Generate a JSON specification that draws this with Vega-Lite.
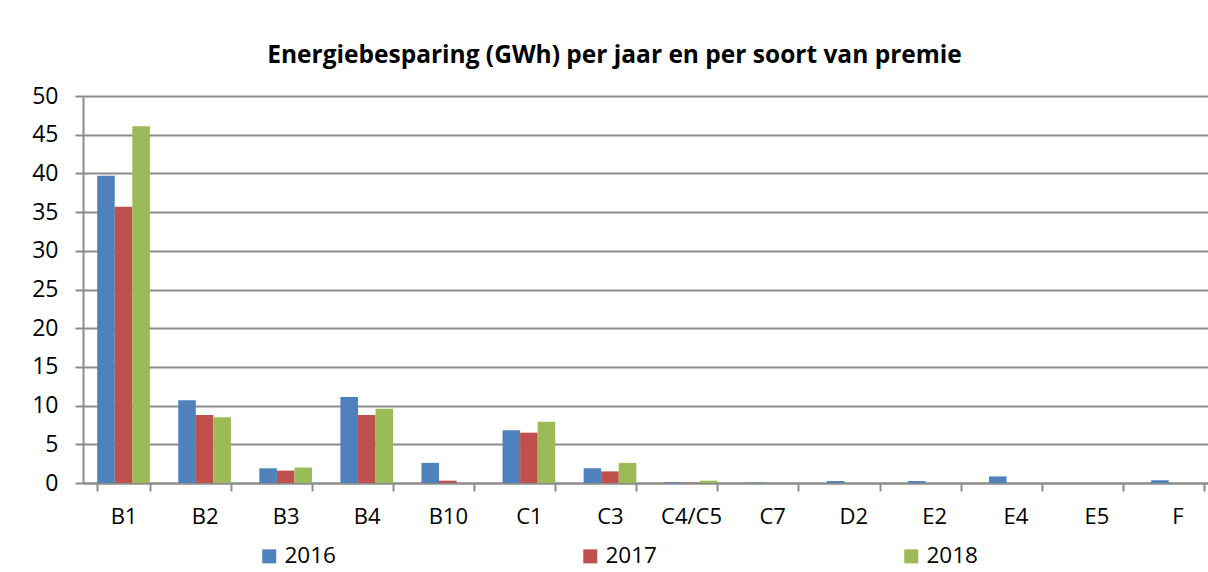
{
  "$schema": "https://vega.github.io/schema/vega-lite/v6.json",
  "autosize": {"type": "none"},
  "padding": {"left": 83, "top": 96, "right": 0, "bottom": 89},
  "width": 1125,
  "height": 387,
  "background": "white",
  "title": {
    "text": "Energiebesparing (GWh) per jaar en per soort van premie",
    "font": "Open Sans",
    "fontSize": 24.5,
    "fontWeight": "bold",
    "color": "#000000",
    "anchor": "middle",
    "frame": "group",
    "dx": -31,
    "offset": 17
  },
  "data": {
    "values": [
      {"cat": "B1", "year": "2016", "value": 39.7},
      {"cat": "B1", "year": "2017", "value": 35.7},
      {"cat": "B1", "year": "2018", "value": 46.1},
      {"cat": "B2", "year": "2016", "value": 10.7},
      {"cat": "B2", "year": "2017", "value": 8.8},
      {"cat": "B2", "year": "2018", "value": 8.5},
      {"cat": "B3", "year": "2016", "value": 1.9},
      {"cat": "B3", "year": "2017", "value": 1.6},
      {"cat": "B3", "year": "2018", "value": 2.0},
      {"cat": "B4", "year": "2016", "value": 11.1},
      {"cat": "B4", "year": "2017", "value": 8.8},
      {"cat": "B4", "year": "2018", "value": 9.6},
      {"cat": "B10", "year": "2016", "value": 2.6},
      {"cat": "B10", "year": "2017", "value": 0.3},
      {"cat": "B10", "year": "2018", "value": 0},
      {"cat": "C1", "year": "2016", "value": 6.8},
      {"cat": "C1", "year": "2017", "value": 6.5},
      {"cat": "C1", "year": "2018", "value": 7.9},
      {"cat": "C3", "year": "2016", "value": 1.9},
      {"cat": "C3", "year": "2017", "value": 1.5},
      {"cat": "C3", "year": "2018", "value": 2.6},
      {"cat": "C4/C5", "year": "2016", "value": 0.1},
      {"cat": "C4/C5", "year": "2017", "value": 0.05},
      {"cat": "C4/C5", "year": "2018", "value": 0.3},
      {"cat": "C7", "year": "2016", "value": 0.05},
      {"cat": "C7", "year": "2017", "value": 0},
      {"cat": "C7", "year": "2018", "value": 0},
      {"cat": "D2", "year": "2016", "value": 0.25},
      {"cat": "D2", "year": "2017", "value": 0},
      {"cat": "D2", "year": "2018", "value": 0},
      {"cat": "E2", "year": "2016", "value": 0.25},
      {"cat": "E2", "year": "2017", "value": 0},
      {"cat": "E2", "year": "2018", "value": 0},
      {"cat": "E4", "year": "2016", "value": 0.85},
      {"cat": "E4", "year": "2017", "value": 0},
      {"cat": "E4", "year": "2018", "value": 0},
      {"cat": "E5", "year": "2016", "value": 0},
      {"cat": "E5", "year": "2017", "value": 0},
      {"cat": "E5", "year": "2018", "value": 0},
      {"cat": "F", "year": "2016", "value": 0.35},
      {"cat": "F", "year": "2017", "value": 0},
      {"cat": "F", "year": "2018", "value": 0}
    ]
  },
  "mark": {"type": "bar"},
  "encoding": {
    "x": {
      "field": "cat",
      "type": "nominal",
      "sort": null,
      "scale": {"paddingInner": 0.35, "paddingOuter": 0.175, "range": [0, 1135]},
      "axis": {
        "title": null,
        "labelAngle": 0,
        "labelFont": "Open Sans",
        "labelFontSize": 22,
        "labelColor": "#000000",
        "tickBand": "extent",
        "tickSize": 8,
        "tickColor": "#8c8c8c",
        "tickWidth": 2,
        "domainColor": "#8c8c8c",
        "domainWidth": 2,
        "labelPadding": 15,
        "grid": false
      }
    },
    "xOffset": {"field": "year", "type": "nominal", "scale": {"paddingInner": 0, "paddingOuter": 0}},
    "y": {
      "field": "value",
      "type": "quantitative",
      "scale": {"domain": [0, 50], "nice": false},
      "axis": {
        "title": null,
        "values": [0, 5, 10, 15, 20, 25, 30, 35, 40, 45, 50],
        "labelFont": "Open Sans",
        "labelFontSize": 23,
        "labelColor": "#000000",
        "tickSize": 8,
        "tickColor": "#8c8c8c",
        "tickWidth": 2,
        "domainColor": "#8c8c8c",
        "domainWidth": 2,
        "labelPadding": 17,
        "grid": true,
        "gridColor": "#8c8c8c",
        "gridWidth": 2
      }
    },
    "color": {
      "field": "year",
      "type": "nominal",
      "scale": {"domain": ["2016", "2017", "2018"], "range": ["#4F81BD", "#C0504D", "#9BBB59"]},
      "legend": {
        "title": null,
        "orient": "none",
        "legendX": 175,
        "legendY": 449,
        "direction": "horizontal",
        "columns": 3,
        "gridAlign": "all",
        "columnPadding": 243,
        "symbolType": "square",
        "symbolSize": 196,
        "symbolStrokeWidth": 0,
        "labelFont": "Open Sans",
        "labelFontSize": 22.5,
        "labelColor": "#000000",
        "labelOffset": 4
      }
    }
  },
  "config": {
    "view": {"stroke": null}
  }
}
